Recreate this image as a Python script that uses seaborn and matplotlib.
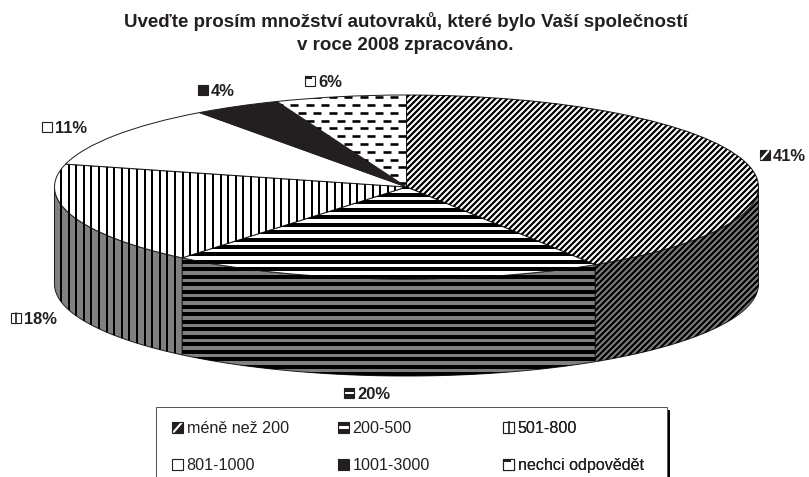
import numpy as np
import seaborn as sns
import matplotlib.pyplot as plt
from matplotlib.collections import LineCollection
from matplotlib.legend_handler import HandlerBase
from matplotlib.lines import Line2D
from matplotlib.patches import Patch, Rectangle

sns.set_theme(style='white', font='Liberation Sans')

title = 'Uveďte prosím množství autovraků, které bylo Vaší společností\nv roce 2008 zpracováno.'
categories = ['méně než 200', '200-500', '501-800', '801-1000', '1001-3000', 'nechci odpovědět']
percent = [41, 20, 18, 11, 4, 6]
label_text = ['41%', '20%', '18%', '11%', '4%', '6%']

ink = '#231f20'
DPI = 90
W, H = 809, 477
CX, CY, RX, RY, DEPTH = 406.5, 187, 352, 92, 97

fig = plt.figure(figsize=(W / DPI, H / DPI), dpi=DPI)
ax = fig.add_axes([0, 0, 1, 1])
# overlay in picture pixels, for labels, legend and stripes
ov = fig.add_axes([0, 0, 1, 1])
ov.set_xlim(0, W)
ov.set_ylim(H, 0)
ov.axis('off')

top_colors = ['white', 'white', 'white', 'white', ink, 'white']
wedges, _ = ax.pie(percent, startangle=90, counterclock=False, colors=top_colors,
                   wedgeprops={'edgecolor': ink, 'linewidth': 0.8})
ax.set_aspect('auto')
ax.set_xlim(-CX / RX, (W - CX) / RX)
ax.set_ylim(-(H - CY) / RY, CY / RY)


def add_lines(segs, clip, lw):
    lc = LineCollection(segs, colors='black', linewidths=lw * 72 / DPI, transform=ov.transData)
    lc.set_clip_path(clip)
    ax.add_collection(lc, autolim=False)


def diagonal(clip):
    add_lines([[(x, H), (x + H, 0)] for x in np.arange(-H, W, 6.0)], clip, 2.2)


def horizontal(clip):
    add_lines([[(0, y), (W, y)] for y in np.arange(0.5, H, 7.47)], clip, 4)


def vertical(clip):
    add_lines([[(x, 0), (x, H)] for x in np.arange(0.2, W, 7.6)], clip, 2)


def dashes(clip):
    segs = []
    for i, y in enumerate(np.arange(3.5, 200, 7.8)):
        for x in np.arange(-10 + 7.7 * (i % 2), W, 15.4):
            segs.append([(x, y), (x + 8, y)])
    add_lines(segs, clip, 2.6)


# side wall of the disc, only the front half is seen
edges = np.concatenate([[0], np.cumsum(percent)]) / sum(percent) * 360
for i, pattern in enumerate([diagonal, horizontal, vertical]):
    th = np.radians(np.linspace(max(edges[i], 90), min(edges[i + 1], 270), 80))
    x, y = np.sin(th), np.cos(th)
    low = y - DEPTH / RY
    wall = ax.fill(np.r_[x, x[::-1]], np.r_[y, low[::-1]], facecolor='#808080',
                   edgecolor=ink, linewidth=0.8, zorder=0.5)[0]
    pattern(wall)

diagonal(wedges[0])
horizontal(wedges[1])
vertical(wedges[2])
dashes(wedges[5])


def key_artists(i, x, y, w, h, trans):
    # small swatch, h may be negative on the pixel overlay so that up stays up
    parts = [Rectangle((x, y), w, h, facecolor=ink if i in (0, 1, 4) else 'white',
                       edgecolor='none', transform=trans)]
    if i == 0:
        parts.append(Line2D([x + 0.15 * w, x + 0.85 * w], [y + 0.1 * h, y + 0.9 * h], color='white',
                            linewidth=1.7, transform=trans))
    elif i == 1:
        parts.append(Rectangle((x, y + 0.38 * h), w, 0.24 * h, facecolor='white',
                               edgecolor='none', transform=trans))
    elif i == 2:
        parts.append(Line2D([x + 0.55 * w] * 2, [y, y + h], color=ink, linewidth=1.3, transform=trans))
    elif i == 5:
        parts.append(Rectangle((x, y + 0.72 * h), 0.72 * w, 0.28 * h, facecolor=ink,
                               edgecolor='none', transform=trans))
    parts.append(Rectangle((x, y), w, h, fill=False, edgecolor=ink, linewidth=0.9, transform=trans))
    return parts


class KeyHandler(HandlerBase):
    def create_artists(self, legend, orig_handle, xdescent, ydescent, width, height, fontsize, trans):
        return key_artists(orig_handle.get_gid(), -xdescent, -ydescent, width, height, trans)


handles = [Patch(gid=i) for i in range(6)]

label_key_x = [760, 344, 11, 42, 198, 305]
label_y = [155, 393, 318, 127, 90, 81]
for i in range(6):
    for part in key_artists(i, label_key_x[i], label_y[i] + 5, 10, -10, ov.transData):
        ov.add_artist(part)
    ov.text(label_key_x[i] + 13, label_y[i], label_text[i], fontsize=13.2, fontweight='bold',
            color=ink, va='center_baseline', ha='left')

ov.text(405.5, 33, title, fontsize=15, fontweight='bold', color=ink, ha='center', va='center',
        linespacing=1.47)

# legend box runs off the bottom of the picture
ov.add_patch(Rectangle((159, 410), 511, 80, facecolor='black', edgecolor='none'))
ov.add_patch(Rectangle((156, 407), 511, 80, facecolor='white', edgecolor='#555555', linewidth=0.8))
for col, x0 in enumerate([172, 338, 503]):
    leg = ov.legend(handles[col::3], categories[col::3], loc='upper left',
                    bbox_to_anchor=(x0, 421), bbox_transform=ov.transData, frameon=False,
                    fontsize=12.9, labelcolor=ink, handlelength=0.7, handleheight=0.7,
                    handletextpad=0.2, borderpad=0, borderaxespad=0, labelspacing=1.38,
                    handler_map={Patch: KeyHandler()})
    ov.add_artist(leg)

fig.savefig('out.png', dpi=DPI)
